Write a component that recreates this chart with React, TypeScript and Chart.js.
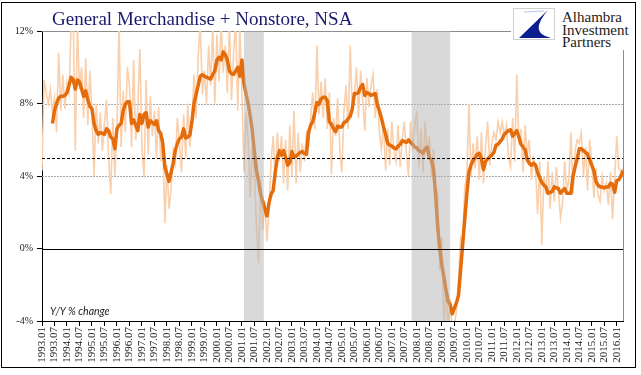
import React, { useEffect, useRef } from 'react';
import { Chart, registerables } from 'chart.js';

Chart.register(...registerables);

// Half-year tick labels (one every 6 months, Jan 1993 .. Jan 2016)
const TICK_LABELS = [
  '1993.01', '1993.07', '1994.01', '1994.07', '1995.01', '1995.07', '1996.01', '1996.07',
  '1997.01', '1997.07', '1998.01', '1998.07', '1999.01', '1999.07', '2000.01', '2000.07',
  '2001.01', '2001.07', '2002.01', '2002.07', '2003.01', '2003.07', '2004.01', '2004.07',
  '2005.01', '2005.07', '2006.01', '2006.07', '2007.01', '2007.07', '2008.01', '2008.07',
  '2009.01', '2009.07', '2010.01', '2010.07', '2011.01', '2011.07', '2012.01', '2012.07',
  '2013.01', '2013.07', '2014.01', '2014.07', '2015.01', '2015.07', '2016.01',
];

// Monthly Y/Y % change, Jan 1993 .. Apr 2016 (raw, NSA)
const RAW_CHANGE = [
  4.3, 9.3, 8.6, 8.0, 8.8, 7.5, 8.3, 6.4, 10.8, 7.6,
  9.6, 7.7, 9.2, 8.6, 12.5, 12.8, 5.4, 12.4, 8.8, 10.0,
  7.2, 10.5, 6.8, 9.8, 7.6, 4.0, 8.0, 5.8, 7.5, 5.4,
  6.9, 8.2, 5.0, 3.0, 7.2, 4.0, 6.6, 12.5, 5.6, 8.7,
  6.4, 10.0, 9.0, 5.6, 10.4, 6.0, 7.8, 11.0, 5.5, 3.9,
  9.3, 5.2, 8.4, 6.2, 7.6, 5.0, 7.8, 4.8, 6.1, 1.4,
  4.6, 2.2, 3.3, 5.4, 4.7, 7.2, 5.8, 4.2, 7.4, 5.0,
  8.0, 5.6, 7.0, 9.6, 7.2, 10.6, 12.4, 8.5, 9.8, 8.0,
  11.2, 9.0, 12.3, 8.0, 11.8, 9.2, 12.5, 9.7, 11.2, 8.6,
  12.4, 8.2, 10.8, 12.5, 7.6, 12.2, 8.6, 4.2, 7.5, 6.0,
  2.8, 5.6, 4.3, 1.2, -0.8, 3.8, 1.0, 2.6, 0.4, 2.0,
  4.8, 6.2, 3.8, 6.4, 4.8, 6.2, 3.6, 6.0, 3.2, 6.8,
  4.0, 7.6, 3.6, 6.4, 4.2, 5.8, 4.8, 6.5, 5.6, 7.2,
  8.6, 6.6, 11.2, 7.4, 9.2, 7.2, 9.4, 6.6, 8.6, 4.1,
  7.2, 6.2, 8.3, 5.5, 4.2, 7.6, 9.0, 6.6, 11.2, 7.6,
  8.5, 10.0, 7.2, 9.8, 8.2, 6.5, 9.4, 7.8, 9.0, 9.6,
  7.2, 8.8, 6.4, 5.5, 7.0, 4.3, 6.6, 4.6, 7.0, 5.4,
  4.8, 6.8, 4.5, 6.0, 7.0, 5.2, 4.0, 7.0, 5.4, 6.8,
  7.6, 4.5, 6.6, 4.2, 7.0, 5.2, 6.2, 4.0, 5.5, 2.5,
  3.0, -1.2, 0.6, -4.5, -1.8, -4.5, -2.8, -4.6, -4.2, -3.5,
  -1.8, 0.6, 0.3, 3.4, 4.0, 8.0, 4.0, 5.8, 4.4, 6.2,
  3.8, 6.4, 3.6, 5.6, 7.0, 4.6, 5.8, 6.4, 6.0, 7.0,
  6.4, 7.0, 6.2, 6.8, 5.0, 4.5, 7.2, 4.8, 9.6, 5.8,
  6.6, 4.2, 6.8, 5.2, 6.0, 3.8, 5.0, 4.4, 1.9, 4.8,
  0.2, 4.0, 3.0, 4.8, 2.2, 4.2, 2.6, 4.5, 3.2, 1.7,
  2.5, 4.8, 3.2, 3.8, 6.4, 3.0, 5.4, 6.0, 5.8, 6.4,
  4.0, 5.6, 3.2, 6.0, 4.8, 2.8, 4.4, 3.0, 2.6, 4.0,
  3.2, 3.6, 2.4, 4.2, 1.6, 3.9, 6.2, 4.4, 4.3, 4.4,
];

// Smoothed (moving average) Y/Y % change
const SMOOTHED_CHANGE = [
  null, null, null, null, null, 6.9, 7.6, 8.0, 8.3, 8.4,
  8.4, 8.45, 8.6, 9.0, 9.45, 9.3, 8.8, 9.3, 9.2, 8.8,
  8.4, 8.7, 8.2, 7.85, 7.7, 6.9, 6.5, 6.3, 6.4, 6.35,
  6.3, 6.6, 6.5, 6.15, 6.05, 5.5, 6.6, 6.8, 6.9, 7.6,
  7.95, 8.1, 8.1, 6.9, 7.1, 6.8, 6.5, 7.4, 6.9, 7.4,
  7.5, 6.7, 7.05, 6.95, 6.85, 7.05, 6.5, 6.35, 5.8, 4.5,
  4.1, 3.7, 4.2, 4.7, 5.4, 5.8, 6.05, 6.15, 6.6, 6.1,
  6.15, 6.25, 7.0, 8.0, 8.5, 9.0, 9.5, 9.6, 9.5, 9.45,
  9.4, 9.35, 9.6, 9.8, 10.4, 10.55, 10.4, 10.85, 10.7, 10.4,
  9.8, 9.65, 9.6, 9.8, 10.0, 9.5, 10.4, 9.1, 8.5, 8.0,
  7.3, 6.5, 5.3, 4.3, 3.7, 3.0, 2.6, 2.2, 1.8, 2.5,
  3.0, 3.2, 4.2, 5.0, 5.4, 5.15, 5.4, 5.0, 4.6, 4.75,
  5.35, 5.05, 5.1, 5.2, 5.3, 5.35, 5.25, 5.2, 6.4, 6.8,
  7.0, 7.5, 8.05, 7.95, 8.25, 8.35, 8.35, 8.15, 7.0, 6.85,
  6.6, 6.45, 6.75, 6.7, 6.7, 6.95, 7.0, 7.15, 7.3, 7.7,
  8.55, 8.55, 8.6, 8.9, 9.05, 8.45, 8.6, 8.55, 8.45, 8.5,
  8.55, 7.95, 7.6, 7.2, 6.7, 6.3, 5.8, 5.7, 5.65, 5.55,
  5.5, 5.65, 5.75, 5.95, 5.9, 5.85, 6.0, 5.85, 5.75, 5.6,
  5.55, 5.4, 5.35, 5.25, 5.5, 5.6, 5.0, 4.9, 4.4, 3.0,
  1.2, 0.0, -0.9, -1.6, -2.3, -2.9, -3.1, -3.6, -3.3, -3.0,
  -2.6, -1.2, 0.2, 1.6, 3.0, 4.2, 4.6, 4.85, 5.0, 5.2,
  5.25, 4.95, 4.35, 4.8, 4.95, 5.05, 5.15, 5.3, 5.7, 5.75,
  5.9, 6.05, 6.3, 6.4, 6.5, 6.55, 6.2, 6.35, 6.5, 6.15,
  5.75, 5.6, 5.45, 4.9, 4.7, 4.6, 4.7, 4.6, 4.2, 3.9,
  3.65, 3.5, 3.4, 3.05, 3.1, 3.15, 3.4, 3.35, 3.3, 3.05,
  3.2, 3.3, 3.05, 3.05, 3.05, 4.0, 4.5, 4.95, 5.5, 5.5,
  5.4, 5.3, 5.2, 4.9, 4.6, 4.3, 3.7, 3.5, 3.4, 3.4,
  3.35, 3.4, 3.4, 3.6, 3.55, 3.1, 3.75, 3.8, 4.0, 4.3,
];

// Recession periods, in months since Jan 1993
const RECESSIONS = [
  [97, 106.5],
  [177.5, 196],
];

const Y_MIN = -4;
const Y_MAX = 12;
const Y_STEP = 4;
const DOTTED_GRID = [4, 8];
const THRESHOLD = 5;

const overlayPlugin = {
  id: 'overlayLines',
  beforeDatasetsDraw(chart: any) {
    const { ctx, chartArea: a, scales } = chart;
    const y = scales.y;
    ctx.save();
    ctx.lineWidth = 1;
    ctx.strokeStyle = '#a8a8a8';
    ctx.setLineDash([2, 1]);
    for (const v of DOTTED_GRID) {
      const py = Math.round(y.getPixelForValue(v)) + 0.5;
      ctx.beginPath();
      ctx.moveTo(a.left, py);
      ctx.lineTo(a.right, py);
      ctx.stroke();
    }
    ctx.setLineDash([]);
    ctx.strokeStyle = '#8c8c8c';
    const top = Math.round(y.getPixelForValue(Y_MAX)) + 0.5;
    ctx.beginPath();
    ctx.moveTo(a.left, top);
    ctx.lineTo(a.right + 0.5, top);
    ctx.lineTo(a.right + 0.5, a.bottom);
    ctx.stroke();
    ctx.restore();
  },
  afterDatasetsDraw(chart: any) {
    const { ctx, chartArea: a, scales } = chart;
    const x = scales.x;
    const y = scales.y;
    ctx.save();
    ctx.fillStyle = 'rgba(180,180,180,0.5)';
    for (const [s, e] of RECESSIONS) {
      const x0 = x.getPixelForValue(s);
      const x1 = x.getPixelForValue(e);
      ctx.fillRect(x0, a.top, x1 - x0, a.bottom - a.top);
    }
    ctx.strokeStyle = '#000';
    ctx.lineWidth = 1;
    ctx.setLineDash([3, 2]);
    const p5 = Math.round(y.getPixelForValue(THRESHOLD)) + 0.5;
    ctx.beginPath();
    ctx.moveTo(a.left, p5);
    ctx.lineTo(a.right, p5);
    ctx.stroke();
    ctx.setLineDash([]);
    ctx.lineWidth = 1.2;
    const p0 = Math.round(y.getPixelForValue(0)) + 0.5;
    ctx.beginPath();
    ctx.moveTo(a.left, p0);
    ctx.lineTo(a.right, p0);
    ctx.stroke();
    ctx.restore();
  },
};

export default function App() {
  const canvasRef = useRef<HTMLCanvasElement | null>(null);

  useEffect(() => {
    const canvas = canvasRef.current;
    if (!canvas) return;
    const tickFont = { family: '"Liberation Serif", "Times New Roman", serif', size: 11 };
    const chart = new Chart(canvas, {
      type: 'line',
      data: {
        datasets: [
          {
            label: 'Smoothed',
            data: SMOOTHED_CHANGE.map((v, i) => ({ x: i, y: v })),
            borderColor: '#e46c0a',
            borderWidth: 3.5,
            pointRadius: 0,
            tension: 0,
            spanGaps: false,
            clip: 0,
            borderJoinStyle: 'round',
          },
          {
            label: 'Raw',
            data: RAW_CHANGE.map((v, i) => ({ x: i, y: v })),
            borderColor: '#f9cfac',
            borderWidth: 1.6,
            pointRadius: 0,
            tension: 0,
            clip: 0,
          },
        ],
      },
      options: {
        responsive: false,
        animation: false,
        devicePixelRatio: 1,
        layout: { padding: { left: 0, top: 31, right: 18, bottom: 0 } },
        plugins: {
          legend: { display: false },
          tooltip: { enabled: false },
          title: { display: false },
        },
        scales: {
          x: {
            type: 'linear',
            min: 0,
            max: RAW_CHANGE.length - 1,
            ticks: {
              stepSize: 6,
              autoSkip: false,
              maxTicksLimit: 200,
              includeBounds: false,
              minRotation: 90,
              maxRotation: 90,
              padding: 1,
              color: '#222',
              font: tickFont,
              callback: (v: any) => {
                const k = Math.round(Number(v) / 6);
                return Number(v) % 6 === 0 && TICK_LABELS[k] ? TICK_LABELS[k] : '';
              },
            },
            grid: { drawOnChartArea: false, drawTicks: true, tickLength: 5, tickColor: '#000', tickWidth: 1 },
            border: { display: true, color: '#000', width: 1 },
            afterFit: (s: any) => {
              s.height = 54;
            },
          },
          y: {
            min: Y_MIN,
            max: Y_MAX,
            ticks: {
              stepSize: Y_STEP,
              padding: 4,
              color: '#222',
              font: { ...tickFont, size: 10 },
              callback: (v: any) => `${v}%`,
            },
            grid: { drawOnChartArea: false, drawTicks: true, tickLength: 5, tickColor: '#000', tickWidth: 1 },
            border: { display: true, color: '#000', width: 1 },
            afterFit: (s: any) => {
              s.width = 42;
            },
          },
        },
      },
      plugins: [overlayPlugin],
    } as any);
    return () => chart.destroy();
  }, []);

  return (
    <div
      style={{
        position: 'fixed',
        left: 0,
        top: 0,
        width: 641,
        height: 375,
        background: '#fff',
        overflow: 'hidden',
      }}
    >
      <canvas ref={canvasRef} width={641} height={375} style={{ position: 'absolute', left: 0, top: 0 }} />
      <div
        style={{
          position: 'absolute',
          left: 52,
          top: 9,
          fontFamily: '"Liberation Serif", "Times New Roman", serif',
          fontSize: 19,
          lineHeight: '19px',
          color: '#1b1b6e',
          whiteSpace: 'nowrap',
        }}
      >
        General Merchandise + Nonstore, NSA
      </div>
      <div
        style={{
          position: 'absolute',
          left: 50,
          top: 306,
          fontFamily: 'Lato, "Open Sans", sans-serif',
          fontStyle: 'italic',
          fontSize: 10.5,
          lineHeight: '11px',
          color: '#222',
          whiteSpace: 'nowrap',
        }}
      >
        Y/Y % change
      </div>
      <div
        style={{
          position: 'absolute',
          left: 511,
          top: 4,
          width: 123,
          height: 46,
          background: '#fff',
        }}
      >
        <div
          style={{
            position: 'absolute',
            left: 2,
            top: 4,
            width: 42,
            height: 32,
            boxSizing: 'border-box',
            border: '1px solid #cfcfcf',
            background: '#fff',
          }}
        >
          <svg width={40} height={30} viewBox="0 0 40 30" style={{ position: 'absolute', left: 0, top: 0 }}>
            <path d="M34 1 L5 29 L37 29 Q14 24 34 1 Z" fill="#0b1d8f" />
            <path d="M10 3 L30 2" stroke="#b9c6e6" strokeWidth={1} />
          </svg>
        </div>
        <div
          style={{
            position: 'absolute',
            left: 51,
            top: 7,
            fontFamily: '"Liberation Serif", "Times New Roman", serif',
            fontSize: 15,
            lineHeight: '12.5px',
            color: '#222',
            whiteSpace: 'nowrap',
          }}
        >
          Alhambra
          <br />
          Investment
          <br />
          Partners
        </div>
      </div>
      <div
        style={{
          position: 'absolute',
          left: 1,
          top: 2,
          width: 635,
          height: 366,
          boxSizing: 'border-box',
          border: '1px solid #000',
          pointerEvents: 'none',
        }}
      />
    </div>
  );
}
